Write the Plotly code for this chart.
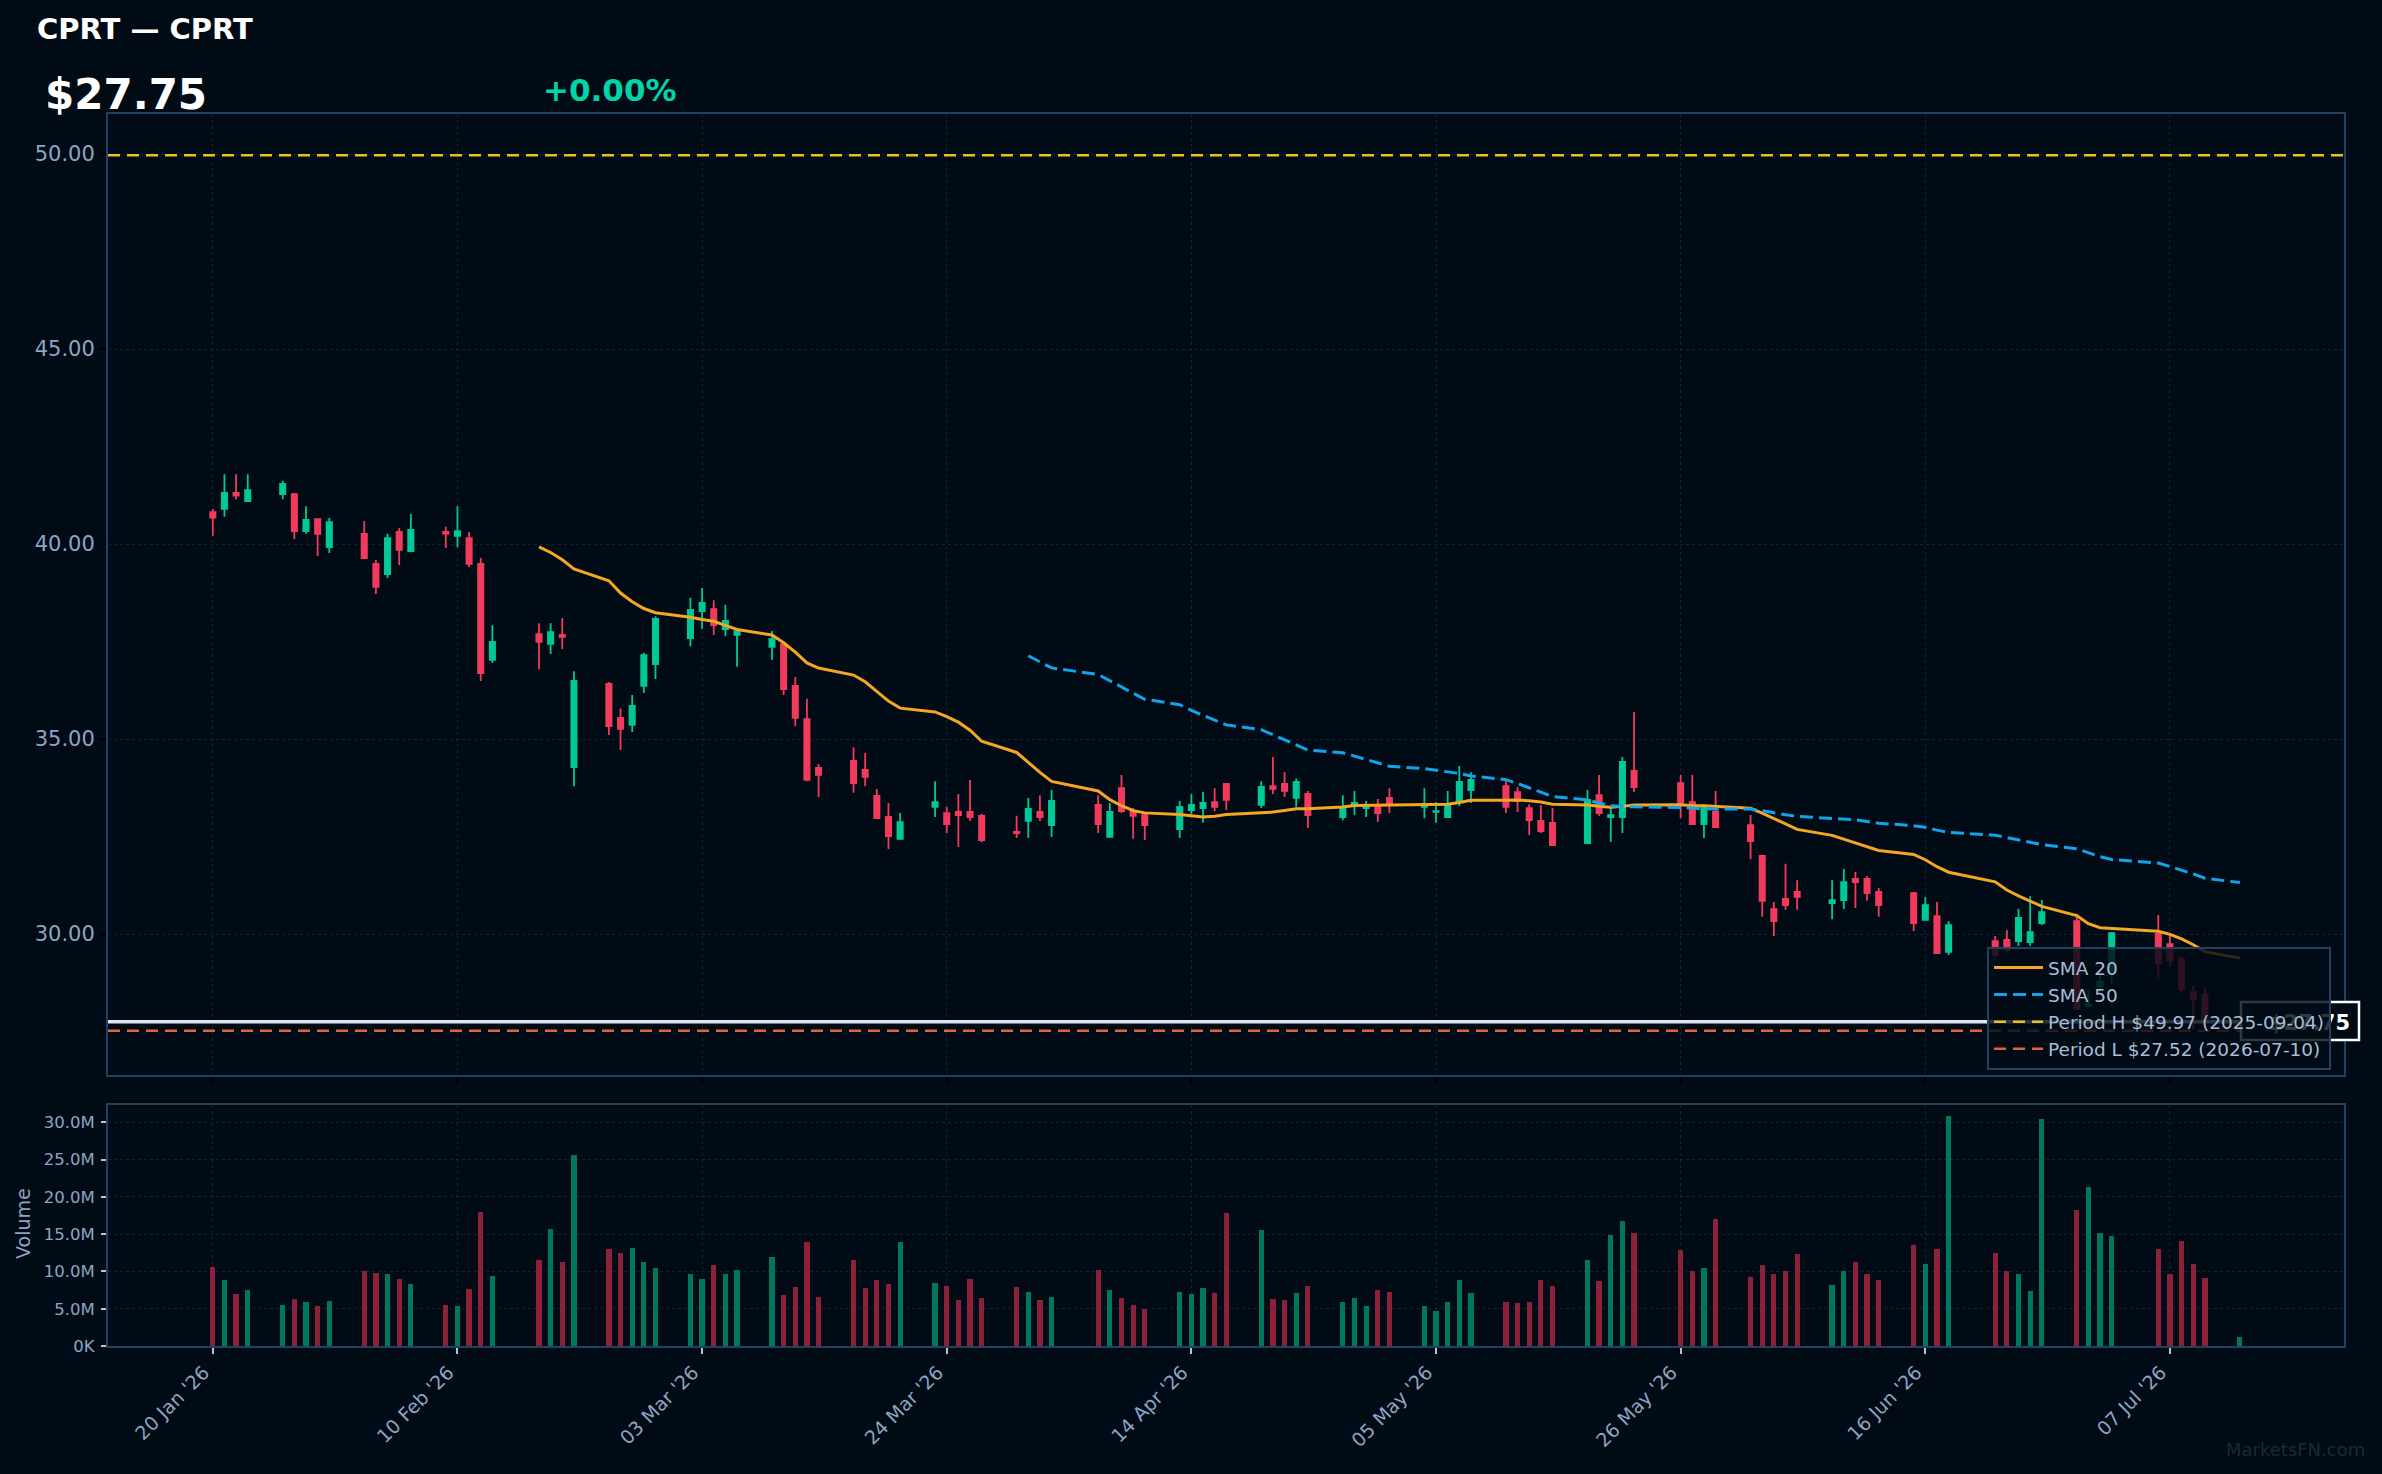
import plotly.graph_objects as go
import pandas as pd

# ---------------- data ----------------
ticker = "CPRT"
dates = [
    "2026-01-20", "2026-01-21", "2026-01-22", "2026-01-23", "2026-01-26", "2026-01-27", "2026-01-28", "2026-01-29", "2026-01-30",
    "2026-02-02", "2026-02-03", "2026-02-04", "2026-02-05", "2026-02-06", "2026-02-09", "2026-02-10", "2026-02-11", "2026-02-12",
    "2026-02-13", "2026-02-17", "2026-02-18", "2026-02-19", "2026-02-20", "2026-02-23", "2026-02-24", "2026-02-25", "2026-02-26",
    "2026-02-27",
    "2026-03-02", "2026-03-03", "2026-03-04", "2026-03-05", "2026-03-06", "2026-03-09", "2026-03-10", "2026-03-11", "2026-03-12",
    "2026-03-13", "2026-03-16", "2026-03-17", "2026-03-18", "2026-03-19", "2026-03-20", "2026-03-23", "2026-03-24", "2026-03-25",
    "2026-03-26", "2026-03-27", "2026-03-30", "2026-03-31",
    "2026-04-01", "2026-04-02", "2026-04-06", "2026-04-07", "2026-04-08", "2026-04-09", "2026-04-10", "2026-04-13", "2026-04-14",
    "2026-04-15", "2026-04-16", "2026-04-17", "2026-04-20", "2026-04-21", "2026-04-22", "2026-04-23", "2026-04-24", "2026-04-27",
    "2026-04-28", "2026-04-29", "2026-04-30",
    "2026-05-01", "2026-05-04", "2026-05-05", "2026-05-06", "2026-05-07", "2026-05-08", "2026-05-11", "2026-05-12", "2026-05-13",
    "2026-05-14", "2026-05-15", "2026-05-18", "2026-05-19", "2026-05-20", "2026-05-21", "2026-05-22", "2026-05-26", "2026-05-27",
    "2026-05-28", "2026-05-29",
    "2026-06-01", "2026-06-02", "2026-06-03", "2026-06-04", "2026-06-05", "2026-06-08", "2026-06-09", "2026-06-10", "2026-06-11",
    "2026-06-12", "2026-06-15", "2026-06-16", "2026-06-17", "2026-06-18", "2026-06-22", "2026-06-23", "2026-06-24", "2026-06-25",
    "2026-06-26", "2026-06-29", "2026-06-30",
    "2026-07-01", "2026-07-02", "2026-07-06", "2026-07-07", "2026-07-08", "2026-07-09", "2026-07-10", "2026-07-13",
]
opens = [
    40.82, 40.90, 41.31, 41.10, 41.28, 41.28, 40.33, 40.64, 39.92,
    40.26, 39.49, 39.23, 40.31, 39.82, 40.31, 40.21, 40.15, 39.49,
    37.03, 37.69, 37.44, 37.67, 34.28, 36.41, 35.54, 35.36, 36.36,
    36.92,
    37.59, 38.28, 38.33, 37.82, 37.67, 37.36, 37.43, 36.36, 35.51,
    34.26, 34.44, 34.21, 33.54, 33.00, 32.44, 33.26, 33.10, 33.13,
    33.13, 33.03, 32.62, 32.90,
    33.13, 32.79, 33.31, 32.49, 33.74, 33.13, 33.05, 32.69, 33.18,
    33.23, 33.38, 33.85, 33.31, 33.79, 33.85, 33.49, 33.59, 33.00,
    33.31, 33.23, 33.31,
    33.49, 33.26, 33.13, 33.00, 33.41, 33.69, 33.79, 33.64, 33.23,
    32.90, 32.85, 32.33, 33.56, 33.00, 33.00, 34.18, 33.87, 33.38,
    32.82, 33.13,
    32.79, 32.00, 30.64, 30.90, 31.08, 30.79, 30.87, 31.41, 31.41,
    31.08, 31.05, 30.36, 30.46, 29.54, 29.82, 29.85, 29.82, 29.79,
    30.28, 30.33, 28.16,
    28.65, 29.03, 30.00, 29.74, 29.35, 28.51, 28.44, 27.72,
]
highs = [
    40.90, 41.79, 41.79, 41.79, 41.62, 41.31, 40.97, 40.66, 40.67,
    40.59, 39.59, 40.26, 40.41, 40.77, 40.44, 40.97, 40.31, 39.64,
    37.92, 37.97, 37.97, 38.10, 36.74, 36.46, 35.78, 36.13, 37.21,
    38.15,
    38.62, 38.87, 38.56, 38.44, 37.79, 37.77, 37.44, 36.59, 36.03,
    34.36, 34.79, 34.64, 33.72, 33.36, 33.10, 33.92, 33.26, 33.59,
    33.95, 33.08, 33.03, 33.49,
    33.56, 33.69, 33.56, 33.36, 34.08, 33.23, 33.13, 33.41, 33.59,
    33.64, 33.74, 33.87, 33.92, 34.54, 34.15, 33.99, 33.67, 33.56,
    33.67, 33.41, 33.46,
    33.74, 33.74, 33.38, 33.67, 34.31, 34.15, 33.95, 33.77, 33.33,
    33.31, 33.23, 33.69, 34.08, 33.26, 34.54, 35.69, 34.08, 34.08,
    33.33, 33.67,
    33.05, 32.03, 30.82, 31.80, 31.38, 31.38, 31.67, 31.59, 31.49,
    31.18, 31.08, 30.95, 30.82, 30.33, 29.95, 30.10, 30.64, 30.97,
    30.87, 30.52, 28.56,
    29.07, 30.05, 30.49, 29.97, 29.42, 28.67, 28.62, 27.80,
]
lows = [
    40.21, 40.70, 41.14, 41.09, 41.15, 40.13, 40.26, 39.69, 39.77,
    39.62, 38.72, 39.13, 39.46, 39.79, 39.90, 39.92, 39.41, 36.49,
    36.95, 36.79, 37.18, 37.31, 33.79, 35.10, 34.72, 35.18, 36.18,
    36.54,
    37.38, 37.82, 37.67, 37.64, 36.85, 37.03, 36.13, 35.33, 33.92,
    33.51, 33.62, 33.79, 32.97, 32.18, 32.44, 33.00, 32.59, 32.23,
    32.90, 32.36, 32.46, 32.46,
    32.90, 32.49, 32.59, 32.49, 33.10, 32.44, 32.41, 32.46, 33.08,
    32.85, 33.15, 33.18, 33.23, 33.59, 33.51, 33.26, 32.72, 32.92,
    33.05, 33.00, 32.87,
    33.10, 32.97, 32.85, 33.00, 33.28, 33.36, 33.10, 33.13, 32.54,
    32.59, 32.28, 32.33, 33.03, 32.36, 32.59, 33.64, 32.97, 32.82,
    32.46, 32.72,
    31.92, 30.44, 29.95, 30.62, 30.62, 30.38, 30.64, 30.67, 30.85,
    30.44, 30.08, 30.36, 29.49, 29.46, 29.40, 29.52, 29.69, 29.70,
    30.23, 28.05, 28.12,
    28.51, 28.74, 28.84, 29.18, 28.52, 27.54, 27.52, 27.68,
]
closes = [
    40.68, 41.31, 41.24, 41.38, 41.54, 40.33, 40.62, 40.26, 40.56,
    39.64, 38.90, 40.15, 39.85, 40.36, 40.27, 40.33, 39.49, 36.69,
    37.49, 37.49, 37.74, 37.62, 36.49, 35.33, 35.26, 35.85, 37.15,
    38.08,
    38.31, 38.49, 37.92, 38.03, 37.76, 37.56, 36.28, 35.54, 33.95,
    34.08, 33.87, 34.03, 32.97, 32.51, 32.87, 33.38, 32.82, 33.05,
    33.00, 32.41, 32.59, 33.21,
    33.00, 33.41, 32.82, 33.13, 33.15, 33.03, 32.79, 33.26, 33.31,
    33.36, 33.26, 33.44, 33.77, 33.72, 33.67, 33.90, 33.05, 33.21,
    33.36, 33.28, 33.10,
    33.33, 33.31, 33.15, 33.31, 33.90, 33.95, 33.26, 33.41, 32.92,
    32.64, 32.28, 33.44, 33.10, 33.05, 34.41, 33.77, 33.36, 32.82,
    33.26, 32.74,
    32.38, 30.85, 30.33, 30.74, 30.95, 30.87, 31.33, 31.33, 31.05,
    30.74, 30.28, 30.74, 29.51, 30.23, 29.46, 29.59, 30.41, 30.05,
    30.56, 28.09, 28.20,
    28.78, 30.02, 29.25, 29.31, 28.59, 28.33, 27.75, 27.75,
]
volumes_m = [
    10.6, 8.9, 7.0, 7.5, 5.5, 6.3, 5.9, 5.4, 6.1,
    10.0, 9.8, 9.7, 9.0, 8.3, 5.5, 5.4, 7.7, 18.0,
    9.4, 11.6, 15.7, 11.3, 25.6, 13.0, 12.5, 13.2, 11.3,
    10.4,
    9.7, 9.0, 10.9, 9.7, 10.2, 12.0, 6.9, 7.9, 14.0,
    6.6, 11.6, 7.8, 8.9, 8.3, 13.9, 8.5, 8.1, 6.2,
    9.0, 6.5, 7.9, 7.3,
    6.2, 6.6, 10.2, 7.5, 6.5, 5.5, 5.0, 7.3, 7.0,
    7.8, 7.1, 17.9, 15.6, 6.3, 6.2, 7.1, 8.1, 5.9,
    6.5, 5.4, 7.5,
    7.3, 5.4, 4.7, 5.9, 8.9, 7.1, 5.9, 5.8, 5.9,
    8.9, 8.1, 11.6, 8.7, 14.9, 16.8, 15.1, 12.9, 10.0,
    10.4, 17.0,
    9.3, 10.9, 9.7, 10.1, 12.4, 8.2, 10.1, 11.3, 9.6,
    8.9, 13.5, 11.0, 13.0, 30.8, 12.5, 10.0, 9.6, 7.4,
    30.5, 18.2, 21.3,
    15.2, 14.8, 13.0, 9.7, 14.1, 11.0, 9.1, 1.2,
]

tick_dates = ["2026-01-20", "2026-02-10", "2026-03-03", "2026-03-24", "2026-04-14",
              "2026-05-05", "2026-05-26", "2026-06-16", "2026-07-07"]
tick_labels = ["20 Jan '26", "10 Feb '26", "03 Mar '26", "24 Mar '26", "14 Apr '26",
               "05 May '26", "26 May '26", "16 Jun '26", "07 Jul '26"]
price_ticks = [30, 35, 40, 45, 50]
vol_ticks_m = [0, 5, 10, 15, 20, 25, 30]
vol_tick_labels = ["0K", "5.0M", "10.0M", "15.0M", "20.0M", "25.0M", "30.0M"]

period_high = 49.97
period_high_date = "2025-09-04"
period_low = 27.52
period_low_date = "2026-07-10"
last_price = 27.75
change_pct = 0.00

x_range = ["2026-01-11 00:06", "2026-07-21 22:34"]
price_range = [26.385, 51.026]
vol_range = [0, 32.32]

# ---------------- style ----------------
BG = "#010b16"
UP = "#00c896"
DN = "#f23b5c"
UP_VOL = "#00785c"
DN_VOL = "#8c2139"
GRID = "rgba(70,95,125,0.28)"
BORDER = "#22405f"
TICK = "#8ca5c3"
FONT = "DejaVu Sans"

# pixel helpers (plot area: x 108..2344, y 114..1346)
PL, PR, PT, PB = 108, 2344, 114, 1346
PW, PH = PR - PL, PB - PT


def px(x):
    return (x - PL) / PW


def py(y):
    return (PB - y) / PH


close_s = pd.Series(closes)
sma20 = close_s.rolling(20).mean()
sma50 = close_s.rolling(50).mean()
vol_colors = [UP_VOL if c >= o else DN_VOL for o, c in zip(opens, closes)]

fig = go.Figure()

fig.add_trace(go.Candlestick(
    x=dates, open=opens, high=highs, low=lows, close=closes,
    increasing=dict(line=dict(color=UP, width=1.8), fillcolor=UP),
    decreasing=dict(line=dict(color=DN, width=1.8), fillcolor=DN),
    whiskerwidth=0, showlegend=False, hoverinfo="skip",
    xaxis="x", yaxis="y",
))

fig.add_trace(go.Bar(
    x=dates, y=volumes_m, marker=dict(color=vol_colors, line=dict(width=0)),
    width=0.45 * 86400000, showlegend=False, hoverinfo="skip",
    xaxis="x2", yaxis="y2",
))

fig.add_trace(go.Scatter(
    x=dates, y=sma20, mode="lines", name="SMA 20",
    line=dict(color="#f5a623", width=3), xaxis="x", yaxis="y",
))
fig.add_trace(go.Scatter(
    x=dates, y=sma50, mode="lines", name="SMA 50",
    line=dict(color="#0ea5e9", width=3, dash="13px,6px"), xaxis="x", yaxis="y",
))
fig.add_trace(go.Scatter(
    x=x_range, y=[period_high, period_high], mode="lines",
    name=f"Period H ${period_high:.2f} ({period_high_date})",
    line=dict(color="#e6c21a", width=2.5, dash="12px,7px"), xaxis="x", yaxis="y",
))
fig.add_trace(go.Scatter(
    x=x_range, y=[period_low, period_low], mode="lines",
    name=f"Period L ${period_low:.2f} ({period_low_date})",
    line=dict(color="#e2633b", width=2.5, dash="12px,7px"), xaxis="x", yaxis="y",
))

axis_common = dict(
    showgrid=True, gridcolor=GRID, griddash="dot", gridwidth=1,
    showline=True, mirror=True, linecolor=BORDER, linewidth=2, zeroline=False,
)

fig.update_layout(
    width=2382, height=1474,
    paper_bgcolor=BG, plot_bgcolor=BG,
    margin=dict(l=PL, r=2382 - PR, t=PT, b=1474 - PB, autoexpand=False),
    font=dict(family=FONT, color=TICK),
    boxgap=0.55,
    boxgroupgap=0,
    bargap=0,
    showlegend=True,
    legend=dict(
        x=px(1987), y=py(947), xanchor="left", yanchor="top",
        bgcolor="rgba(1,11,22,0.82)", bordercolor=BORDER, borderwidth=2,
        font=dict(family=FONT, size=18.5, color="#a9bdd6"),
        itemwidth=49, tracegroupgap=0,
    ),
    xaxis=dict(
        type="date", range=x_range, domain=[0, 1], anchor="y",
        rangeslider=dict(visible=False),
        tickvals=tick_dates, showticklabels=False,
        ticks="outside", ticklen=6, tickwidth=2, tickcolor="#000000",
        **axis_common,
    ),
    yaxis=dict(
        domain=[py(1075), 1], range=price_range, anchor="x",
        tickvals=price_ticks, tickformat=".2f",
        tickfont=dict(size=21, color=TICK),
        ticks="outside", ticklen=6, tickwidth=2, tickcolor="#000000",
        ticklabelstandoff=1,
        **axis_common,
    ),
    xaxis2=dict(
        type="date", range=x_range, domain=[0, 1], anchor="y2", matches="x",
        tickvals=tick_dates, ticktext=tick_labels, tickangle=-45,
        tickfont=dict(size=19, color=TICK),
        ticklabelshift=-9,
        ticks="outside", ticklen=6, tickwidth=2, tickcolor="#b8c4d2",
        **axis_common,
    ),
    yaxis2=dict(
        domain=[0, py(1105)], range=vol_range, anchor="x2",
        tickvals=vol_ticks_m, ticktext=vol_tick_labels,
        tickfont=dict(size=16.5, color=TICK),
        ticks="outside", ticklen=5, tickwidth=2, tickcolor="#b8c4d2",
        ticklabelstandoff=3,
        **axis_common,
    ),
)

# current price line and label
fig.add_shape(
    type="line", xref="x domain", yref="y", x0=0, x1=1, y0=last_price, y1=last_price,
    line=dict(color="rgba(236,241,246,0.95)", width=3.5), layer="above",
)
fig.add_shape(
    type="rect", xref="paper", yref="paper",
    x0=px(2241), x1=px(2359), y0=py(1040), y1=py(1002),
    line=dict(color="white", width=2.5), fillcolor=BG, layer="above",
    label=dict(text=f"${last_price:.2f}", textposition="middle right", padding=6,
               font=dict(family=FONT, size=21, color="white", weight="bold")),
)

annotations = [
    dict(text=f"<b>{ticker} — {ticker}</b>", x=px(35), y=py(28.5), xanchor="left", yanchor="middle",
         font=dict(family=FONT, size=29, color="white")),
    dict(text=f"<b>${last_price:.2f}</b>", x=px(43), y=py(95), xanchor="left", yanchor="middle",
         font=dict(family=FONT, size=42, color="white")),
    dict(text=f"<b>{change_pct:+.2f}%</b>", x=px(541), y=py(89.5), xanchor="left", yanchor="middle",
         font=dict(family=FONT, size=31, color="#00d4aa")),
    dict(text="Volume", x=px(23), y=py(1224), xanchor="center", yanchor="middle", textangle=-90,
         font=dict(family=FONT, size=19, color=TICK)),
    dict(text="MarketsFN.com", x=px(2367), y=py(1449), xanchor="right", yanchor="middle",
         font=dict(family=FONT, size=18, color="#1a2939")),
]
for a in annotations:
    a.update(xref="paper", yref="paper", showarrow=False)
fig.update_layout(annotations=annotations)

fig.write_html("out.html")
